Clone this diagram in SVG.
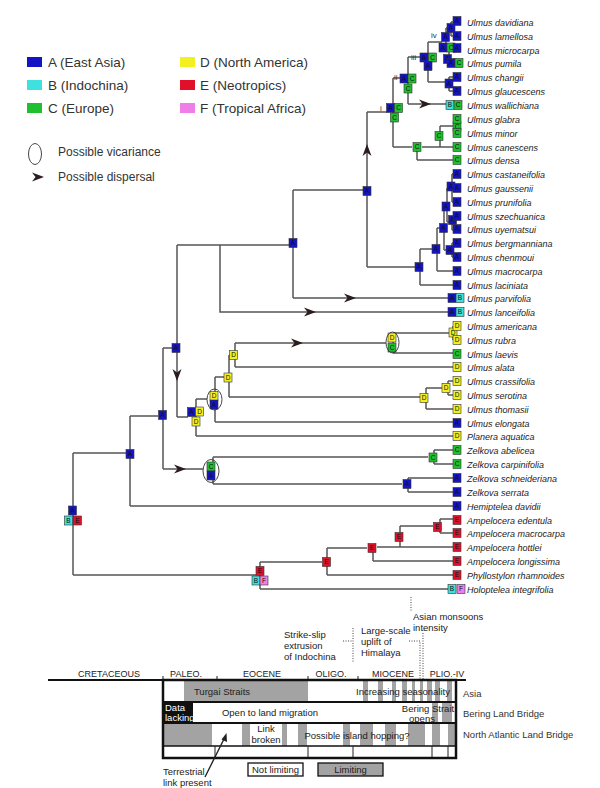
<svg xmlns="http://www.w3.org/2000/svg" width="600" height="788" viewBox="0 0 600 788">
<defs>
<style>
.l{fill:none;stroke:#555;stroke-width:1.5}
.bx{stroke:#333;stroke-width:0.6}
.a{fill:#1414c4}.b{fill:#3ee0e0}.c{fill:#1fbf2f}.d{fill:#f2f020}.e{fill:#e0102a}.f{fill:#f07ee8}
.k{font-family:"Liberation Sans",Arial,sans-serif;font-size:6.5px;text-anchor:middle;fill:#111}
.t{font-family:"Liberation Sans",Arial,sans-serif;font-style:italic;font-size:9px;fill:#222}
.lg{font-family:"Liberation Sans",Arial,sans-serif;font-size:13.5px;fill:#333}
.lg2{font-family:"Liberation Sans",Arial,sans-serif;font-size:12px;fill:#333}
.s{font-family:"Liberation Sans",Arial,sans-serif;font-size:9px;fill:#222}
.sm{font-family:"Liberation Sans",Arial,sans-serif;font-size:9.5px;fill:#222}
.rl{font-family:"Liberation Sans",Arial,sans-serif;font-size:9.5px;fill:#333}
.nl{font-family:"Liberation Sans",Arial,sans-serif;font-size:8px;fill:#333}
.g{fill:#a3a3a3}
.dot{fill:none;stroke:#444;stroke-width:1;stroke-dasharray:1 1.5}
.ell{fill:none;stroke:#333;stroke-width:0.9}
</style>
<path id="arr" d="M-6,-4.5 L6,0 L-6,4.5 L-2.5,0 Z" fill="#2b1d1d"/>
</defs>

<g id="legend">
<rect class="a" x="27" y="57" width="15" height="10"/><text class="lg" x="48" y="67">A (East Asia)</text>
<rect class="b" x="27" y="80" width="15" height="10"/><text class="lg" x="48" y="90">B (Indochina)</text>
<rect class="c" x="27" y="103" width="15" height="10"/><text class="lg" x="48" y="113">C (Europe)</text>
<rect class="d" x="180" y="57" width="15" height="10"/><text class="lg" x="200" y="67">D (North America)</text>
<rect class="e" x="180" y="80" width="15" height="10"/><text class="lg" x="200" y="90">E (Neotropics)</text>
<rect class="f" x="180" y="103" width="15" height="10"/><text class="lg" x="200" y="113">F (Tropical Africa)</text>
<ellipse class="ell" cx="35" cy="154" rx="6.5" ry="10.5"/><text class="lg2" x="58" y="156">Possible vicariance</text>
<use href="#arr" transform="translate(38,177)"/><text class="lg2" x="58" y="181">Possible dispersal</text>
</g>

<g id="connectors">
<path class="l" d="M73,453V575M73,453H126M73,575H256"/>
<path class="l" d="M130,416V506M130,416H158M130,506H453"/>
<path class="l" d="M163,348V469M163,348H172M163,469H203"/>
<path class="l" d="M177,245V417M177,417H188M177,245H289M220,245V312H448"/>
<path class="l" d="M293,190V298M293,190H363M293,298H448"/>
<path class="l" d="M367,112V267M367,112H387M367,267H415"/>
<path class="l" d="M393,78V147M393,78H400M393,147H412"/>
<path class="l" d="M408,57V104M408,57H420M408,104H446"/>
<path class="l" d="M428,42V82M428,42H442M428,82H445"/>
<path class="l" d="M446,28V50M446,28H451M451,22V36M451,22H453M451,36H453M446,50H453M449,50V64M449,64H453M449,77V91M449,77H453M449,91H453"/>
<path class="l" d="M417,147V160M417,160H453M422,147H453M440,126V147M440,126H453M455,119V133"/>
<path class="l" d="M420,249V285M420,285H453M420,249H432M437,228V271M437,271H453M437,228H440M444,207V250M444,250H446M444,207H442M452,243V257M452,243H453M452,257H453M447,188V222M447,222H449M447,188H451M452,216V230M452,230H453M452,174V202M452,174H453M452,202H453"/>
<path class="l" d="M196,399V436M196,436H453M196,399H207"/>
<path class="l" d="M215,377V422M215,422H453M215,377H224"/>
<path class="l" d="M229,355V397M229,397H420M229,355H233"/>
<path class="l" d="M235,343V367M235,343H386M235,367H453"/>
<path class="l" d="M393,333V353M393,333H449M393,353H453M453,326V340"/>
<path class="l" d="M426,388V409M426,409H453M426,388H442M448,381V395M448,381H453M448,395H453"/>
<path class="l" d="M213,457V484M213,457H428M213,484H402"/>
<path class="l" d="M434,450V464M434,450H453M434,464H453M408,478V492M408,478H453M408,492H453"/>
<path class="l" d="M260,562V589M260,562H322M260,589H448"/>
<path class="l" d="M327,548V575M327,548H367M327,575H453"/>
<path class="l" d="M373,547V561M373,561H453M377,547H453M400,526V547M400,526H433M440,519V533M440,519H453M440,533H453"/>
<use href="#arr" transform="translate(180,469)"/>
<use href="#arr" transform="translate(297,343)"/>
<use href="#arr" transform="translate(350,298)"/>
<use href="#arr" transform="translate(310,312)"/>
<use href="#arr" transform="translate(425,104)"/>
<use href="#arr" transform="translate(177,375) rotate(90)"/>
<use href="#arr" transform="translate(367,150) rotate(-90)"/>
</g>

<g id="nodes">
<g id="n-root"><rect class="bx a" x="68.5" y="506" width="8" height="9"/><text class="k" x="72.5" y="512.8">A</text><rect class="bx b" x="64.5" y="516" width="8" height="9"/><text class="k" x="68.5" y="522.8">B</text><rect class="bx e" x="73.5" y="516" width="8" height="9"/><text class="k" x="77.5" y="522.8">E</text></g>
<g id="n130"><rect class="bx a" x="126" y="449.5" width="8" height="9"/><text class="k" x="130" y="456.3">A</text></g>
<g id="n163"><rect class="bx a" x="158.5" y="410.5" width="8" height="9"/><text class="k" x="162.5" y="417.3">A</text></g>
<g id="n177"><rect class="bx a" x="172" y="343.5" width="8" height="9"/><text class="k" x="176" y="350.3">A</text></g>
<g id="n293"><rect class="bx a" x="289" y="238.5" width="8" height="9"/><text class="k" x="293" y="245.3">A</text></g>
<g id="n367"><rect class="bx a" x="363" y="186.5" width="8" height="9"/><text class="k" x="367" y="193.3">A</text></g>
<g id="n-i"><text class="nl" x="380" y="111">i</text><rect class="bx a" x="386.5" y="103.5" width="8" height="9"/><text class="k" x="390.5" y="110.3">A</text><rect class="bx c" x="394.5" y="103.5" width="8" height="9"/><text class="k" x="398.5" y="110.3">C</text><rect class="bx c" x="390.5" y="113" width="8" height="9"/><text class="k" x="394.5" y="119.8">C</text></g>
<g id="n-ii"><text class="nl" x="394" y="80">ii</text><rect class="bx a" x="400" y="74" width="8" height="9"/><text class="k" x="404" y="80.8">A</text><rect class="bx c" x="408" y="74" width="8" height="9"/><text class="k" x="412" y="80.8">C</text><rect class="bx c" x="404" y="84" width="8" height="9"/><text class="k" x="408" y="90.8">C</text></g>
<g id="n-iii"><text class="nl" x="411" y="60">iii</text><rect class="bx a" x="420" y="53" width="8" height="9"/><text class="k" x="424" y="59.8">A</text><rect class="bx c" x="428.5" y="53" width="8" height="9"/><text class="k" x="432.5" y="59.8">C</text><rect class="bx a" x="424" y="61.5" width="8" height="9"/><text class="k" x="428" y="68.3">A</text></g>
<g id="n-iv"><text class="nl" x="431" y="38">iv</text><rect class="bx a" x="441.5" y="32.5" width="8" height="9"/><text class="k" x="445.5" y="39.3">A</text></g>
<g id="n-dl"><rect class="bx a" x="447" y="23.5" width="8" height="9"/><text class="k" x="451" y="30.3">A</text></g>
<g id="n-mp"><rect class="bx a" x="439" y="43" width="8" height="9"/><text class="k" x="443" y="49.8">A</text><rect class="bx c" x="447" y="43" width="8" height="9"/><text class="k" x="451" y="49.8">C</text><rect class="bx a" x="443.5" y="54.5" width="8" height="9"/><text class="k" x="447.5" y="61.3">A</text></g>
<g id="n-cg"><rect class="bx a" x="445" y="79" width="8" height="9"/><text class="k" x="449" y="85.8">A</text></g>
<g id="n-e1"><rect class="bx c" x="413" y="142.5" width="8" height="9"/><text class="k" x="417" y="149.3">C</text></g>
<g id="n-e2"><rect class="bx c" x="435" y="131.5" width="8" height="9"/><text class="k" x="439" y="138.3">C</text></g>
<g id="n-gm"><rect class="bx c" x="453" y="122" width="8" height="9"/><text class="k" x="457" y="128.8">C</text></g>
<g id="n-a19"><rect class="bx a" x="415" y="262.5" width="8" height="9"/><text class="k" x="419" y="269.3">A</text></g>
<g id="n-a18"><rect class="bx a" x="432" y="244.5" width="8" height="9"/><text class="k" x="436" y="251.3">A</text></g>
<g id="n-a17"><rect class="bx a" x="439.5" y="223.5" width="8" height="9"/><text class="k" x="443.5" y="230.3">A</text></g>
<g id="n-abc"><rect class="bx a" x="446" y="245.5" width="8" height="9"/><text class="k" x="450" y="252.3">A</text></g>
<g id="n-aa"><rect class="bx a" x="442" y="202" width="8" height="9"/><text class="k" x="446" y="208.8">A</text></g>
<g id="n-asu"><rect class="bx a" x="448.5" y="215.5" width="8" height="9"/><text class="k" x="452.5" y="222.3">A</text></g>
<g id="n-acg"><rect class="bx a" x="447" y="182" width="8" height="9"/><text class="k" x="451" y="188.8">A</text></g>
<g id="n-am"><rect class="bx a" x="187.5" y="407.5" width="8" height="9"/><text class="k" x="191.5" y="414.3">A</text><rect class="bx d" x="195.5" y="407" width="8" height="9"/><text class="k" x="199.5" y="413.8">D</text><rect class="bx d" x="192" y="417" width="8" height="9"/><text class="k" x="196" y="423.8">D</text></g>
<g id="n-el1"><rect class="bx d" x="210" y="391.5" width="8" height="9"/><text class="k" x="214" y="398.3">D</text><rect class="bx a" x="210" y="400" width="8" height="9"/><text class="k" x="214" y="406.8">A</text><ellipse class="ell" cx="214.5" cy="399.5" rx="7.5" ry="10.5"/></g>
<g id="n-p1"><rect class="bx d" x="224" y="373" width="8" height="9"/><text class="k" x="228" y="379.8">D</text></g>
<g id="n-q"><rect class="bx d" x="229.5" y="350.5" width="8" height="9"/><text class="k" x="233.5" y="357.3">D</text></g>
<g id="n-el2"><rect class="bx d" x="388" y="333" width="8" height="9"/><text class="k" x="392" y="339.8">D</text><rect class="bx c" x="388" y="343" width="8" height="9"/><text class="k" x="392" y="349.8">C</text><ellipse class="ell" cx="392.5" cy="342.5" rx="6.5" ry="10.5"/></g>
<g id="n-ar"><rect class="bx d" x="449" y="328" width="8" height="9"/><text class="k" x="453" y="334.8">D</text></g>
<g id="n-r"><rect class="bx d" x="420" y="393.5" width="8" height="9"/><text class="k" x="424" y="400.3">D</text></g>
<g id="n-s"><rect class="bx d" x="442" y="383.5" width="8" height="9"/><text class="k" x="446" y="390.3">D</text></g>
<g id="n-el3"><rect class="bx c" x="207" y="462" width="8" height="9"/><text class="k" x="211" y="468.8">C</text><rect class="bx a" x="207" y="471" width="8" height="9"/><text class="k" x="211" y="477.8">A</text><ellipse class="ell" cx="211" cy="471" rx="8" ry="11.5"/></g>
<g id="n-zab"><rect class="bx c" x="429" y="453" width="8" height="9"/><text class="k" x="433" y="459.8">C</text></g>
<g id="n-zsch"><rect class="bx a" x="403" y="479.5" width="8" height="9"/><text class="k" x="407" y="486.3">A</text></g>
<g id="n260"><rect class="bx e" x="256" y="566.5" width="8" height="9"/><text class="k" x="260" y="573.3">E</text><rect class="bx b" x="252" y="576" width="8" height="9"/><text class="k" x="256" y="582.8">B</text><rect class="bx f" x="260" y="576" width="8" height="9"/><text class="k" x="264" y="582.8">F</text></g>
<g id="n327"><rect class="bx e" x="322.5" y="557.5" width="8" height="9"/><text class="k" x="326.5" y="564.3">E</text></g>
<g id="n372"><rect class="bx e" x="368" y="543.5" width="8" height="9"/><text class="k" x="372" y="550.3">E</text></g>
<g id="n399"><rect class="bx e" x="395" y="532.5" width="8" height="9"/><text class="k" x="399" y="539.3">E</text></g>
<g id="n437"><rect class="bx e" x="433.5" y="522.5" width="8" height="9"/><text class="k" x="437.5" y="529.3">E</text></g>
</g>

<g id="tips">
<g id="t0"><rect class="bx a" x="453" y="16.5" width="8" height="9"/><text class="k" x="457" y="23.3">A</text><text class="t" x="467" y="25.5">Ulmus davidiana</text></g>
<g id="t1"><rect class="bx a" x="453" y="31.5" width="8" height="9"/><text class="k" x="457" y="38.3">A</text><text class="t" x="467" y="39.5">Ulmus lamellosa</text></g>
<g id="t2"><rect class="bx a" x="453" y="43.5" width="8" height="9"/><text class="k" x="457" y="50.3">A</text><text class="t" x="467" y="53.5">Ulmus microcarpa</text></g>
<g id="t3"><rect class="bx a" x="447" y="58.5" width="8" height="9"/><text class="k" x="451" y="65.3">A</text><rect class="bx c" x="455" y="58.5" width="8" height="9"/><text class="k" x="459" y="65.3">C</text><text class="t" x="467" y="67">Ulmus pumila</text></g>
<g id="t4"><rect class="bx a" x="453" y="72.5" width="8" height="9"/><text class="k" x="457" y="79.3">A</text><text class="t" x="467" y="81">Ulmus changii</text></g>
<g id="t5"><rect class="bx a" x="453" y="86.5" width="8" height="9"/><text class="k" x="457" y="93.3">A</text><text class="t" x="467" y="95">Ulmus glaucescens</text></g>
<g id="t6"><rect class="bx b" x="446" y="100.5" width="8" height="9"/><text class="k" x="450" y="107.3">B</text><rect class="bx c" x="454" y="100.5" width="8" height="9"/><text class="k" x="458" y="107.3">C</text><text class="t" x="467" y="109">Ulmus wallichiana</text></g>
<g id="t7"><rect class="bx c" x="453" y="114.5" width="8" height="9"/><text class="k" x="457" y="121.3">C</text><text class="t" x="467" y="123">Ulmus glabra</text></g>
<g id="t8"><rect class="bx c" x="453" y="128.5" width="8" height="9"/><text class="k" x="457" y="135.3">C</text><text class="t" x="467" y="137">Ulmus minor</text></g>
<g id="t9"><rect class="bx c" x="453" y="142.5" width="8" height="9"/><text class="k" x="457" y="149.3">C</text><text class="t" x="467" y="150.5">Ulmus canescens</text></g>
<g id="t10"><rect class="bx c" x="453" y="155.5" width="8" height="9"/><text class="k" x="457" y="162.3">C</text><text class="t" x="467" y="164">Ulmus densa</text></g>
<g id="t11"><rect class="bx a" x="453" y="169.5" width="8" height="9"/><text class="k" x="457" y="176.3">A</text><text class="t" x="467" y="178">Ulmus castaneifolia</text></g>
<g id="t12"><rect class="bx a" x="453" y="183.5" width="8" height="9"/><text class="k" x="457" y="190.3">A</text><text class="t" x="467" y="192">Ulmus gaussenii</text></g>
<g id="t13"><rect class="bx a" x="453" y="197.5" width="8" height="9"/><text class="k" x="457" y="204.3">A</text><text class="t" x="467" y="206">Ulmus prunifolia</text></g>
<g id="t14"><rect class="bx a" x="453" y="211.5" width="8" height="9"/><text class="k" x="457" y="218.3">A</text><text class="t" x="467" y="220">Ulmus szechuanica</text></g>
<g id="t15"><rect class="bx a" x="453" y="224.5" width="8" height="9"/><text class="k" x="457" y="231.3">A</text><text class="t" x="467" y="233">Ulmus uyematsui</text></g>
<g id="t16"><rect class="bx a" x="453" y="238.5" width="8" height="9"/><text class="k" x="457" y="245.3">A</text><text class="t" x="467" y="247">Ulmus bergmanniana</text></g>
<g id="t17"><rect class="bx a" x="453" y="252.5" width="8" height="9"/><text class="k" x="457" y="259.3">A</text><text class="t" x="467" y="261">Ulmus chenmoui</text></g>
<g id="t18"><rect class="bx a" x="453" y="266.5" width="8" height="9"/><text class="k" x="457" y="273.3">A</text><text class="t" x="467" y="275">Ulmus macrocarpa</text></g>
<g id="t19"><rect class="bx a" x="453" y="280.5" width="8" height="9"/><text class="k" x="457" y="287.3">A</text><text class="t" x="467" y="289">Ulmus laciniata</text></g>
<g id="t20"><rect class="bx a" x="448" y="293.5" width="8" height="9"/><text class="k" x="452" y="300.3">A</text><rect class="bx b" x="456" y="293.5" width="8" height="9"/><text class="k" x="460" y="300.3">B</text><text class="t" x="467" y="302">Ulmus parvifolia</text></g>
<g id="t21"><rect class="bx a" x="448" y="307.5" width="8" height="9"/><text class="k" x="452" y="314.3">A</text><rect class="bx b" x="456" y="307.5" width="8" height="9"/><text class="k" x="460" y="314.3">B</text><text class="t" x="467" y="316">Ulmus lanceifolia</text></g>
<g id="t22"><rect class="bx d" x="453" y="321.5" width="8" height="9"/><text class="k" x="457" y="328.3">D</text><text class="t" x="467" y="330">Ulmus americana</text></g>
<g id="t23"><rect class="bx d" x="453" y="335.5" width="8" height="9"/><text class="k" x="457" y="342.3">D</text><text class="t" x="467" y="344">Ulmus rubra</text></g>
<g id="t24"><rect class="bx c" x="453" y="349.5" width="8" height="9"/><text class="k" x="457" y="356.3">C</text><text class="t" x="467" y="358">Ulmus laevis</text></g>
<g id="t25"><rect class="bx d" x="453" y="362.5" width="8" height="9"/><text class="k" x="457" y="369.3">D</text><text class="t" x="467" y="371">Ulmus alata</text></g>
<g id="t26"><rect class="bx d" x="453" y="376.5" width="8" height="9"/><text class="k" x="457" y="383.3">D</text><text class="t" x="467" y="385">Ulmus crassifolia</text></g>
<g id="t27"><rect class="bx d" x="453" y="390.5" width="8" height="9"/><text class="k" x="457" y="397.3">D</text><text class="t" x="467" y="399">Ulmus serotina</text></g>
<g id="t28"><rect class="bx d" x="453" y="404.5" width="8" height="9"/><text class="k" x="457" y="411.3">D</text><text class="t" x="467" y="413">Ulmus thomasii</text></g>
<g id="t29"><rect class="bx a" x="453" y="418.5" width="8" height="9"/><text class="k" x="457" y="425.3">A</text><text class="t" x="467" y="427">Ulmus elongata</text></g>
<g id="t30"><rect class="bx d" x="453" y="431.5" width="8" height="9"/><text class="k" x="457" y="438.3">D</text><text class="t" x="467" y="440">Planera aquatica</text></g>
<g id="t31"><rect class="bx c" x="453" y="445.5" width="8" height="9"/><text class="k" x="457" y="452.3">C</text><text class="t" x="467" y="454">Zelkova abelicea</text></g>
<g id="t32"><rect class="bx c" x="453" y="459.5" width="8" height="9"/><text class="k" x="457" y="466.3">C</text><text class="t" x="467" y="468">Zelkova carpinifolia</text></g>
<g id="t33"><rect class="bx a" x="453" y="473.5" width="8" height="9"/><text class="k" x="457" y="480.3">A</text><text class="t" x="467" y="482">Zelkova schneideriana</text></g>
<g id="t34"><rect class="bx a" x="453" y="487.5" width="8" height="9"/><text class="k" x="457" y="494.3">A</text><text class="t" x="467" y="496">Zelkova serrata</text></g>
<g id="t35"><rect class="bx a" x="453" y="501.5" width="8" height="9"/><text class="k" x="457" y="508.3">A</text><text class="t" x="467" y="510">Hemiptelea davidii</text></g>
<g id="t36"><rect class="bx e" x="453" y="515.5" width="8" height="9"/><text class="k" x="457" y="522.3">E</text><text class="t" x="467" y="524">Ampelocera edentula</text></g>
<g id="t37"><rect class="bx e" x="453" y="528.5" width="8" height="9"/><text class="k" x="457" y="535.3">E</text><text class="t" x="467" y="537">Ampelocera macrocarpa</text></g>
<g id="t38"><rect class="bx e" x="453" y="542.5" width="8" height="9"/><text class="k" x="457" y="549.3">E</text><text class="t" x="467" y="551">Ampelocera hottlei</text></g>
<g id="t39"><rect class="bx e" x="453" y="556.5" width="8" height="9"/><text class="k" x="457" y="563.3">E</text><text class="t" x="467" y="565">Ampelocera longissima</text></g>
<g id="t40"><rect class="bx e" x="453" y="570.5" width="8" height="9"/><text class="k" x="457" y="577.3">E</text><text class="t" x="467" y="579">Phyllostylon rhamnoides</text></g>
<g id="t41"><rect class="bx b" x="448" y="584.5" width="8" height="9"/><text class="k" x="452" y="591.3">B</text><rect class="bx f" x="457" y="584.5" width="8" height="9"/><text class="k" x="461" y="591.3">F</text><text class="t" x="467" y="593">Holoptelea integrifolia</text></g>
</g>

<g id="annotations">
<text class="sm" x="284" y="638">Strike-slip</text><text class="sm" x="284" y="649">extrusion</text><text class="sm" x="284" y="660">of Indochina</text>
<path class="dot" d="M343,641H353M353,628V663"/>
<text class="sm" x="361" y="634">Large-scale</text><text class="sm" x="361" y="645">uplift of</text><text class="sm" x="361" y="656">Himalaya</text>
<path class="dot" d="M409,641H420V680"/>
<text class="sm" x="413" y="620">Asian monsoons</text><text class="sm" x="413" y="631">intensity</text>
<path class="dot" d="M411,597V612M423,633V680"/>
</g>

<g id="timeline">
<line x1="48" y1="680" x2="466" y2="680" stroke="#111" stroke-width="2"/>
<text class="s" x="109" y="677" text-anchor="middle">CRETACEOUS</text>
<text class="s" x="186" y="677" text-anchor="middle">PALEO.</text>
<text class="s" x="262" y="677" text-anchor="middle">EOCENE</text>
<text class="s" x="331" y="677" text-anchor="middle">OLIGO.</text>
<text class="s" x="393" y="677" text-anchor="middle">MIOCENE</text>
<text class="s" x="447" y="677" text-anchor="middle">PLIO.-IV</text>
<path d="M217,676V680M308,676V680M358,676V680M163,676V680" stroke="#222" stroke-width="1"/>
<rect x="163" y="680" width="293" height="78" fill="#fff"/>
<rect class="g" x="184" y="681" width="124" height="21"/>
<path class="g" d="M363,681h5v21h-5zM378,681h5v21h-5zM392,681h4v21h-4zM402,681h5v21h-5zM412,681h3v21h-3zM420,681h3v21h-3zM427,681h5v21h-5zM435,681h5v21h-5zM447,681h5v21h-5z"/>
<text class="sm" x="222" y="695" text-anchor="middle">Turgai Straits</text>
<text class="sm" x="403" y="695" text-anchor="middle">Increasing seasonality</text>
<rect x="163" y="702" width="30" height="21" fill="#111"/>
<text class="sm" x="165" y="711" style="fill:#fff">Data</text><text class="sm" x="165" y="721" style="fill:#fff">lacking</text>
<path class="g" d="M432,703h6v20h-6zM442,703h10v20h-10z"/>
<text class="sm" x="270" y="716" text-anchor="middle">Open to land migration</text>
<text class="sm" x="428" y="712" text-anchor="middle">Bering Strait</text><text class="sm" x="422" y="722" text-anchor="middle">opens</text>
<path class="g" d="M163,724h49v22h-49zM242,724h8v22h-8zM282,724h5v22h-5zM298,724h9v22h-9zM343,724h7v22h-7zM360,724h13v22h-13zM385,724h11v22h-11zM408,724h17v22h-17zM432,724h8v22h-8zM448,724h7v22h-7z"/>
<text class="sm" x="266" y="732" text-anchor="middle">Link</text><text class="sm" x="266" y="743" text-anchor="middle">broken</text>
<text class="sm" x="357" y="739" text-anchor="middle">Possible island hopping?</text>
<path d="M163,702H456M163,723H456" stroke="#111" stroke-width="2.2"/>
<path d="M163,746H456" stroke="#111" stroke-width="1.5"/>
<path d="M215,746V758M308,746V758M353,746V758M432,746V758M448,746V758" stroke="#222" stroke-width="1"/>
<rect x="163" y="680" width="293" height="78" fill="none" stroke="#111" stroke-width="2.5"/>
<text class="rl" x="463" y="697">Asia</text>
<text class="rl" x="463" y="717">Bering Land Bridge</text>
<text class="rl" x="463" y="738">North Atlantic Land Bridge</text>
<rect x="248" y="763" width="55" height="13" fill="#fff" stroke="#111" stroke-width="1.3"/>
<text class="sm" x="275.5" y="773" text-anchor="middle">Not limiting</text>
<rect x="318" y="763" width="65" height="13" fill="#a3a3a3" stroke="#111" stroke-width="1.3"/>
<text class="sm" x="350.5" y="773" text-anchor="middle">Limiting</text>
<text class="sm" x="163" y="775">Terrestrial</text><text class="sm" x="163" y="786">link present</text>
<path d="M205,777L225,737" stroke="#222" stroke-width="1.4"/>
<path d="M226.5,733L227,742L221.5,739.5Z" fill="#222"/>
</g>
</svg>
